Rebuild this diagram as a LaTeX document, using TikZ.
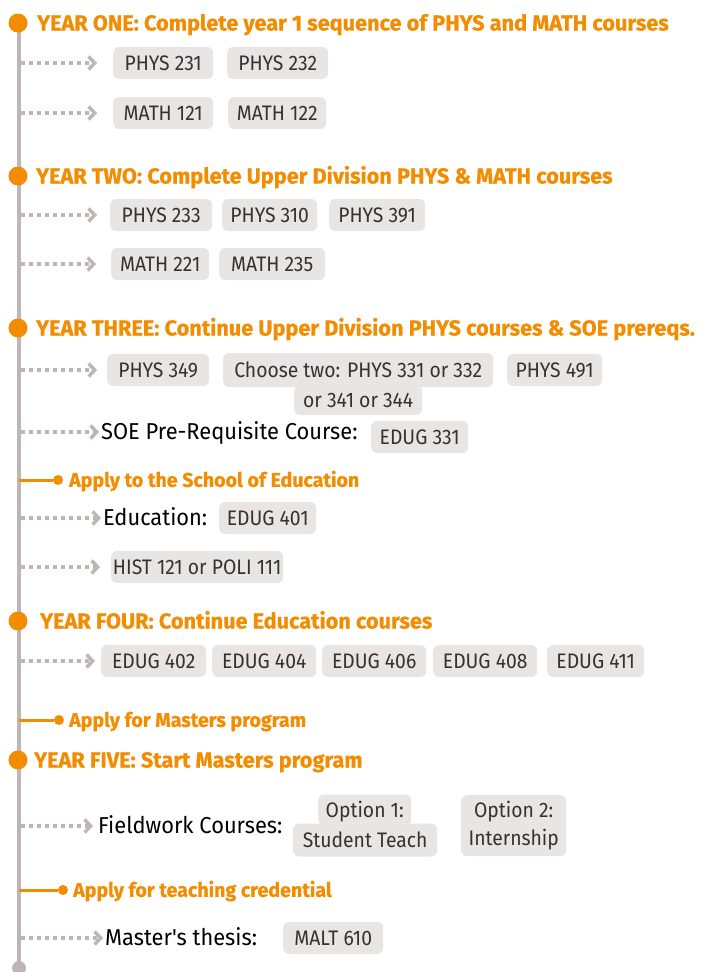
\documentclass[tikz,border=0pt]{standalone}
\usepackage{fontspec}
\usepackage{xcolor}
\usepackage{tikz}
\usetikzlibrary{arrows.meta}
\setmainfont{Fira Sans}
\newfontfamily\headfam{Fira Sans}[BoldFeatures={FakeBold=0.6}]
\newfontfamily\applyfam{Fira Sans}[FakeStretch=0.98, BoldFeatures={FakeBold=0.5}]
\newfontfamily\bodyfam{Fira Sans}[FakeStretch=0.92]
\newfontfamily\labelfam{Fira Sans}[FakeStretch=0.95]
\definecolor{tlorange}{HTML}{F28C00}
\definecolor{tlspine}{HTML}{BEB6B4}
\definecolor{tlbox}{HTML}{E8E5E2}
\definecolor{tltext}{HTML}{333333}

\begin{document}
\begin{tikzpicture}[x=1pt, y=-1pt,
  spine/.style={draw=tlspine, line width=3.5pt},
  flow/.style={draw=tlspine, line width=3.5pt, dash pattern=on 3.5pt off 4.5pt, -{Straight Barb[length=6pt, width=13pt]}},
  yeardot/.style={circle, fill=tlorange, minimum size=19pt, inner sep=0pt},
  enddot/.style={circle, fill=tlspine, minimum size=14pt, inner sep=0pt},
  applydot/.style={circle, fill=tlorange, minimum size=10pt, inner sep=0pt},
  applyline/.style={draw=tlorange, line width=3pt},
  yearhead/.style={anchor=west, inner sep=0pt, text=tlorange, text height=15pt, text depth=0pt, font=\headfam\bfseries\fontsize{21.7}{24}\selectfont},
  applyhead/.style={anchor=west, inner sep=0pt, text=tlorange, text height=13.8pt, text depth=0pt, font=\applyfam\bfseries\fontsize{20}{22}\selectfont},
  boxbase/.style={fill=tlbox, rounded corners=6pt, inner sep=0pt, text=tltext, font=\bodyfam\fontsize{21}{28}\selectfont},
  course/.style={boxbase, anchor=west, minimum height=32pt, text height=14.5pt, text depth=0pt},
  optbox/.style={boxbase, anchor=north west, align=center},
  plainlabel/.style={anchor=west, inner sep=0pt, text=black, text height=15.8pt, text depth=0pt, font=\labelfam\fontsize{23}{26}\selectfont}]
  \useasboundingbox (0,0) rectangle (702,972);

  \coordinate (top) at (19,23);
  \coordinate (bottom) at (19,968);
  \draw[spine] (top) -- (bottom);
  \node[enddot] (spineend) at (bottom) {};

  \node[yeardot] (d1) at (18,23) {};
  \node[yearhead] (y1) at (37,23) {YEAR ONE: Complete year 1 sequence of PHYS and MATH courses};
  \node[yeardot] (d2) at (18,176) {};
  \node[yearhead] (y2) at (36,176) {YEAR TWO: Complete Upper Division PHYS \& MATH courses};
  \node[yeardot] (d3) at (18,328) {};
  \node[yearhead] (y3) at (36,328) {YEAR THREE: Continue Upper Division PHYS courses \& SOE prereqs.};
  \node[yeardot] (d4) at (18,621) {};
  \node[yearhead] (y4) at (40,621) {YEAR FOUR: Continue Education courses};
  \node[yeardot] (d5) at (18,760) {};
  \node[yearhead] (y5) at (34,760) {YEAR FIVE: Start Masters program};

  \node[course, minimum width=100] (phys231) at (113,63) {PHYS 231};
  \node[course, minimum width=101] (phys232) at (227,63) {PHYS 232};
  \node[course, minimum width=100] (math121) at (113,113) {MATH 121};
  \node[course, minimum width=98] (math122) at (228,113) {MATH 122};

  \node[course, minimum width=102] (phys233) at (110,215) {PHYS 233};
  \node[course, minimum width=95] (phys310) at (222,215) {PHYS 310};
  \node[course, minimum width=96] (phys391) at (329,215) {PHYS 391};
  \node[course, minimum width=98] (math221) at (111,264) {MATH 221};
  \node[course, minimum width=106] (math235) at (219,264) {MATH 235};

  \node[course, minimum width=102] (phys349) at (107,370) {PHYS 349};
  \node[course, minimum width=128, minimum height=30] (chooseb) at (294,400) {or 341 or 344};
  \node[course, minimum width=270, minimum height=34] (choosea) at (223,370) {Choose two: PHYS 331 or 332};
  \node[course, minimum width=95] (phys491) at (507,370) {PHYS 491};
  \node[plainlabel] (soe) at (101,432) {SOE Pre-Requisite Course:};
  \node[course, minimum width=97] (edug331) at (371,437) {EDUG 331};
  \node[applydot] (a1dot) at (58,480) {};
  \node[applyhead] (a1) at (69,480) {Apply to the School of Education};
  \node[plainlabel] (edu) at (103,518) {Education:};
  \node[course, minimum width=97] (edug401) at (219,518) {EDUG 401};
  \node[course, minimum width=172] (hist) at (111,567) {HIST 121 or POLI 111};

  \node[course, minimum width=105] (edug402) at (101,661) {EDUG 402};
  \node[course, minimum width=104] (edug404) at (212,661) {EDUG 404};
  \node[course, minimum width=104] (edug406) at (322,661) {EDUG 406};
  \node[course, minimum width=104] (edug408) at (433,661) {EDUG 408};
  \node[course, minimum width=97] (edug411) at (547,661) {EDUG 411};
  \node[applydot] (a2dot) at (59,720) {};
  \node[applyhead] (a2) at (69,720) {Apply for Masters program};

  \node[plainlabel] (field) at (98,826) {Fieldwork Courses:};
  \node[course, minimum width=144, minimum height=33] (opt1b) at (293,840) {Student Teach};
  \node[course, minimum width=93, minimum height=31] (opt1a) at (318,810) {Option 1:};
  \node[optbox, minimum width=105, minimum height=61] (opt2) at (461,795) {Option 2:\\Internship};
  \node[applydot] (a3dot) at (63,890) {};
  \node[applyhead] (a3) at (73,890) {Apply for teaching credential};
  \node[plainlabel] (thesis) at (105,938) {Master's thesis:};
  \node[course, minimum width=100] (malt610) at (283,938) {MALT 610};

  \coordinate (r1a) at (21,63);
  \coordinate (r1b) at (21,113);
  \coordinate (r2a) at (21,215);
  \coordinate (r2b) at (21,264);
  \coordinate (r3a) at (21,370);
  \coordinate (r3b) at (21,432);
  \coordinate (r3c) at (21,518);
  \coordinate (r3d) at (21,567);
  \coordinate (r4) at (21,661);
  \coordinate (r5a) at (21,826);
  \coordinate (r5b) at (21,938);
  \draw[flow, shorten >=16pt] (r1a) -- (phys231.west);
  \draw[flow, shorten >=16pt] (r1b) -- (math121.west);
  \draw[flow, shorten >=13pt] (r2a) -- (phys233.west);
  \draw[flow, shorten >=15pt] (r2b) -- (math221.west);
  \draw[flow, shorten >=10pt] (r3a) -- (phys349.west);
  \draw[flow, shorten >=2pt] (r3b) -- (soe.west);
  \draw[flow, shorten >=2pt] (r3c) -- (edu.west);
  \draw[flow, shorten >=11pt] (r3d) -- (hist.west);
  \draw[flow, shorten >=6pt] (r4) -- (edug402.west);
  \draw[flow, shorten >=5pt] (r5a) -- (field.west);
  \draw[flow, shorten >=2pt] (r5b) -- (thesis.west);

  \coordinate (p1) at (19,480);
  \coordinate (p2) at (19,720);
  \coordinate (p3) at (19,890);
  \draw[applyline] (p1) -- (a1dot);
  \draw[applyline] (p2) -- (a2dot);
  \draw[applyline] (p3) -- (a3dot);
\end{tikzpicture}
\end{document}
